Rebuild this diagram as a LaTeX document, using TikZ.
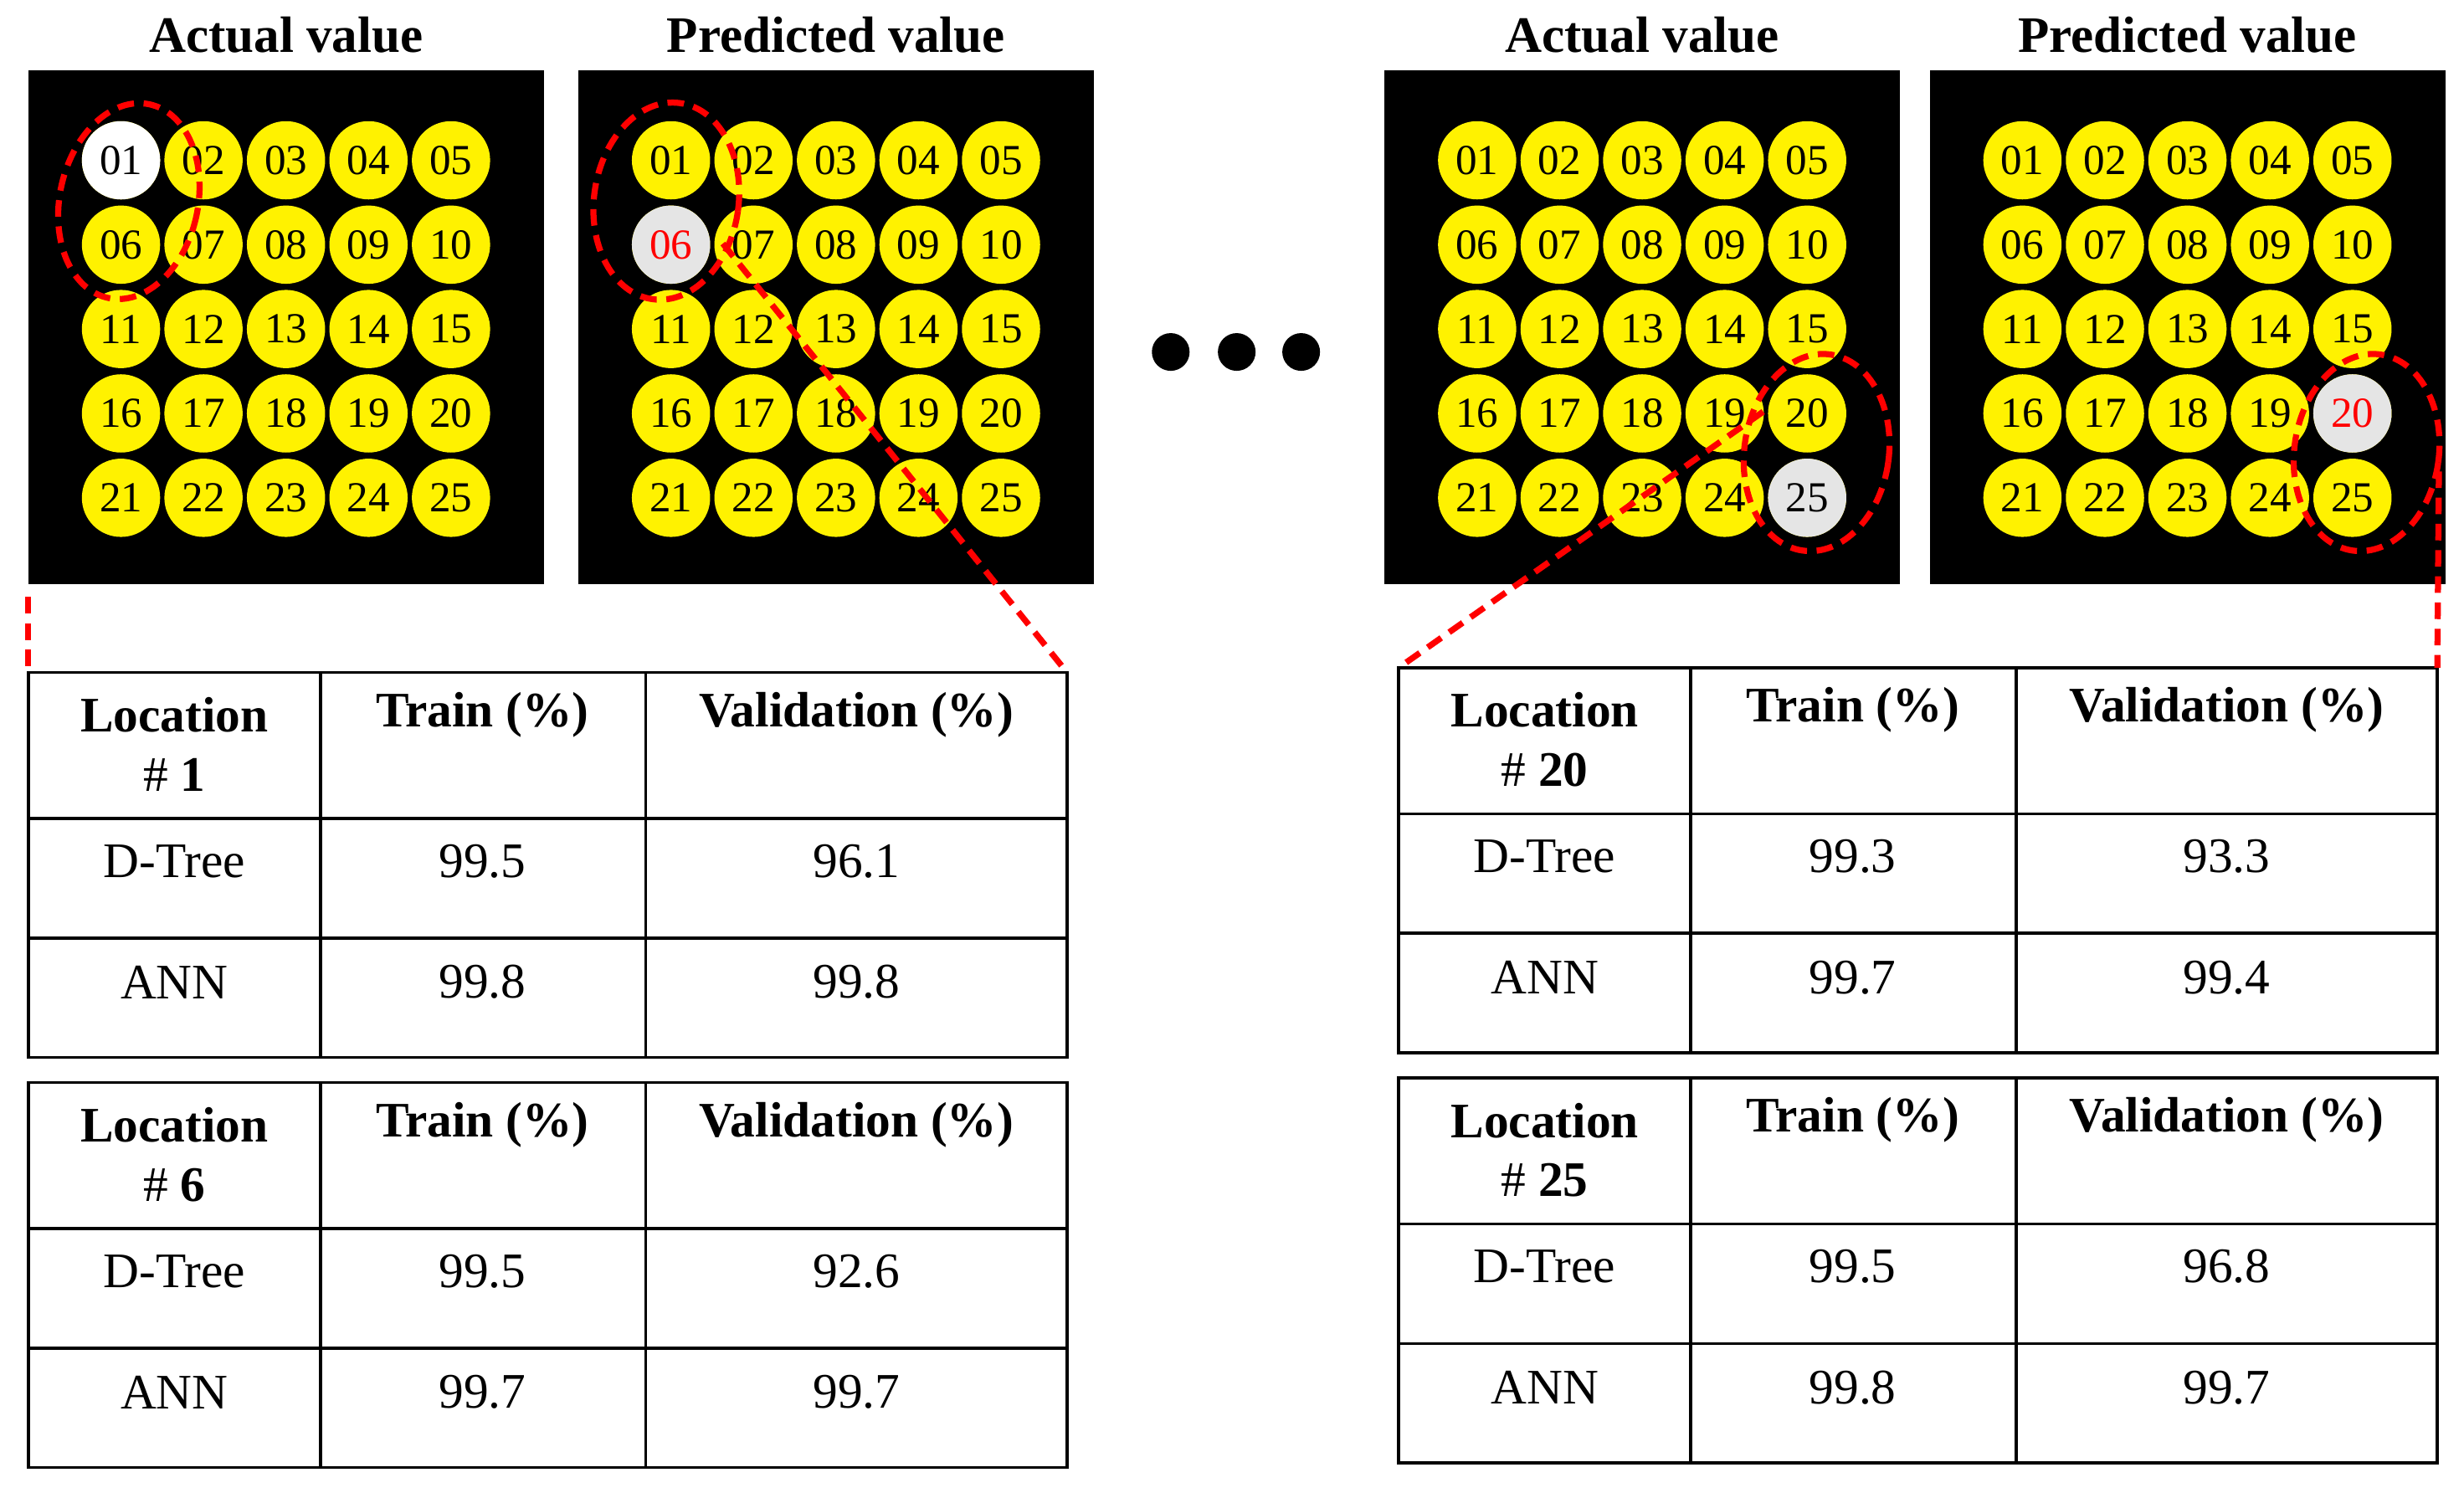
\documentclass[tikz,border=0pt]{standalone}
\usepackage{fontspec}
\setmainfont{Liberation Serif}
\usetikzlibrary{calc}
\tikzset{
    ball/.style={circle,fill=yellow,minimum size=28.35pt,inner sep=0pt,font=\fontsize{15.5}{15.5}\selectfont},
    hit/.style={ball,fill=gray!20},
    board/.style={fill=black},
    title/.style={font=\fontsize{18.5}{18.5}\selectfont\bfseries},
    cell/.style={font=\fontsize{18}{18}\selectfont},
    head/.style={font=\fontsize{18}{18}\selectfont\bfseries},
    zoomline/.style={red,line width=2.2pt,dash pattern=on 6pt off 3.5pt},
}
\newcommand{\twodig}[1]{\ifnum#1<10 0\fi#1}
% board: name, left edge, title
\newcommand{\board}[3]{
    \fill[board] (#2,45) rectangle ++(328,327);
    \node[title] (#1-title) at (#2+164,22) {#3};
    \foreach \r in {0,...,4}{
        \foreach \c in {0,...,4}{
            \pgfmathtruncatemacro{\n}{\r*5+\c+1}
            \node[ball] (#1-\n) at (#2+59+\c*52.5,102+\r*53.7) {\twodig{\n}};
        }
    }
}
% table: name, left, top, location, values
\newcommand{\restable}[7]{
    \coordinate (#1-nw) at (#2,#3);
    \coordinate (#1-ne) at (#2+661,#3);
    \draw[line width=1.1pt] (#2,#3) rectangle ++(661,245);
    \draw[line width=1.1pt] (#2+186,#3) -- ++(0,245) (#2+393,#3) -- ++(0,245)
        (#2,#3+93) -- ++(661,0) (#2,#3+169) -- ++(661,0);
    \node[head] (#1-loc) at (#2+93,#3+27) {Location};
    \node[cell] (#1-num) at (#2+93,#3+65) {\# \textbf{#4}};
    \node[head] (#1-train) at (#2+289,#3+27) {Train (\%)};
    \node[head] (#1-val) at (#2+527,#3+27) {Validation (\%)};
    \node[cell] (#1-dt) at (#2+93,#3+120) {D-Tree};
    \node[cell] (#1-dt1) at (#2+289,#3+120) {#5};
    \node[cell] (#1-dt2) at (#2+527,#3+120) {#6};
    \node[cell] (#1-ann) at (#2+93,#3+197) {ANN};
    \node[cell] (#1-ann1) at (#2+289,#3+197) {\csname tva#7a\endcsname};
    \node[cell] (#1-ann2) at (#2+527,#3+197) {\csname tva#7b\endcsname};
}
\def\tvaAa{99.8}\def\tvaAb{99.8}
\def\tvaBa{99.7}\def\tvaBb{99.7}
\def\tvaCa{99.7}\def\tvaCb{99.4}
\def\tvaDa{99.8}\def\tvaDb{99.7}

\begin{document}
\begin{tikzpicture}[x=0.02cm,y=-0.02cm,line width=1pt]
    \useasboundingbox (0,0) rectangle (1568,950);
    \board{pa}{18}{Actual value}
    \board{pb}{368}{Predicted value}
    \board{pc}{881}{Actual value}
    \board{pd}{1228}{Predicted value}
    % marked locations
    \node[hit,fill=white] at (pa-1) {01};
    \node[hit,text=red] at (pb-6) {06};
    \node[hit] at (pc-25) {25};
    \node[hit,text=red] at (pd-20) {20};
    % dots
    \foreach \x in {745,787,828}
        \fill (\x,224) circle (12);
    % zoom ellipses
    \draw[zoomline,rotate around={-12:(82,128)}] (82,128) ellipse (44 and 63);
    \draw[zoomline,rotate around={-8:(424,128)}] (424,128) ellipse (46 and 63);
    \draw[zoomline,rotate around={-8:(1156,288)}] (1156,288) ellipse (46 and 63);
    \draw[zoomline,rotate around={-8:(1506,288)}] (1506,288) ellipse (46 and 63);
    \coordinate (za) at (18,380);
    \coordinate (zb) at (460,155);
    \coordinate (zc) at (1122,262);
    \coordinate (zd) at (1552,300);
    \restable{ta}{18}{428}{1}{99.5}{96.1}{A}
    \restable{tb}{18}{689}{6}{99.5}{92.6}{B}
    \restable{tc}{890}{425}{20}{99.3}{93.3}{C}
    \restable{td}{890}{686}{25}{99.5}{96.8}{D}
    \draw[zoomline] (za) -- (ta-nw);
    \draw[zoomline] (zb) -- (ta-ne);
    \draw[zoomline] (zc) -- (tc-nw);
    \draw[zoomline] (zd) -- (tc-ne);
\end{tikzpicture}
\end{document}
